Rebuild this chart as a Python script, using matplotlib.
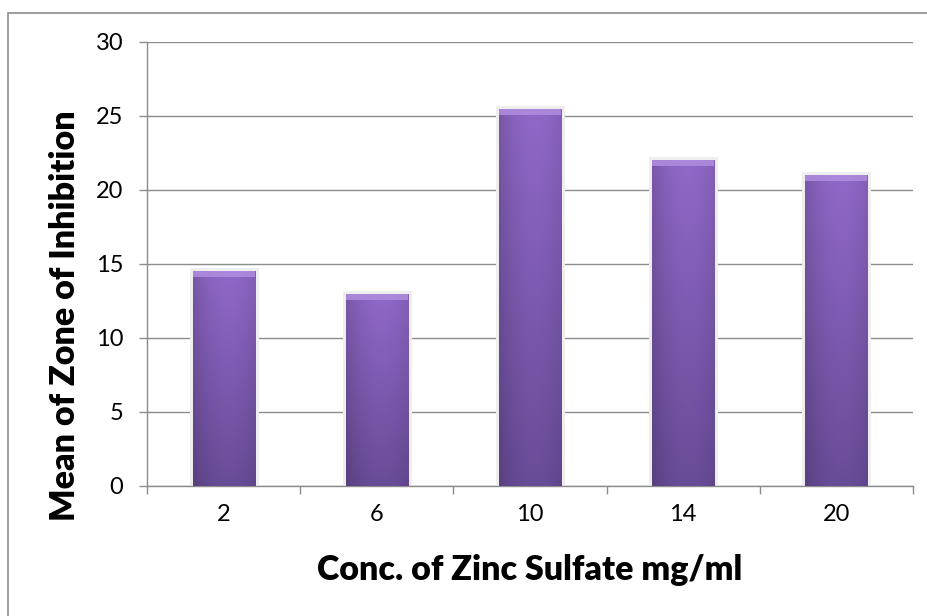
import numpy as np
import matplotlib.pyplot as plt
from matplotlib.patches import Rectangle
from matplotlib.colors import to_rgb

conc = ["2", "6", "10", "14", "20"]
zone_mean = [14.5, 13, 25.5, 22, 21]
y_ticks = [0, 5, 10, 15, 20, 25, 30]

plt.rcParams['font.family'] = ['Lato', 'DejaVu Sans']
GRID = '#8c8c8c'


def bar_gradient():
    # vertical fade (light top -> darker bottom) times a soft horizontal shade
    top = np.array(to_rgb('#9068c8'))
    bottom = np.array(to_rgb('#694c98'))
    t = np.linspace(0, 1, 120)[:, None]
    col = top * (1 - t) + bottom * t
    xs = np.linspace(-1, 1, 60)
    shade = 0.88 + 0.12 * (1 - np.abs(xs - 0.15) ** 2)
    img = col[:, None, :] * shade[None, :, None]
    return np.clip(img, 0, 1)


def main():
    fig = plt.figure(figsize=(9.28, 6.16), dpi=100)
    ax = fig.add_axes([147 / 928, 1 - 486 / 616, 766 / 928, 444 / 616])

    x = np.arange(len(conc))
    bars = ax.bar(x, zone_mean, width=0.405, color='#7d5eb3',
                  edgecolor='#eeeeee', linewidth=5, zorder=2)
    grad = bar_gradient()
    for b in bars:
        x0, w, h = b.get_x(), b.get_width(), b.get_height()
        im = ax.imshow(grad, extent=[x0, x0 + w, 0, h], origin='upper',
                       aspect='auto', zorder=3, interpolation='bilinear')
        im.set_clip_path(b)
        # light bevel on the top edge
        bevel = Rectangle((x0, h - 0.4), w, 0.4, color='#ae8bdd',
                          alpha=0.9, zorder=4, lw=0)
        ax.add_patch(bevel)
        bevel.set_clip_path(b)

    ax.set_xlim(-0.5, len(conc) - 0.5)
    ax.set_ylim(0, 30)
    ax.set_yticks(y_ticks)
    ax.yaxis.grid(True, color=GRID, linewidth=1.0)
    ax.set_axisbelow(True)

    # category boundaries as major ticks, labels on minor ticks
    ax.set_xticks(np.arange(-0.5, len(conc), 1.0))
    ax.set_xticklabels([])
    ax.set_xticks(x, minor=True)
    ax.set_xticklabels(conc, minor=True)
    ax.tick_params(axis='x', which='major', length=6, width=1.0,
                   color=GRID, direction='out')
    ax.tick_params(axis='x', which='minor', length=0, pad=13, labelsize=17)
    ax.tick_params(axis='y', length=6, width=1.0, color=GRID, pad=11,
                   labelsize=17)

    for side in ['top', 'right']:
        ax.spines[side].set_visible(False)
    for side in ['left', 'bottom']:
        ax.spines[side].set_color(GRID)
        ax.spines[side].set_linewidth(1.0)

    ax.set_xlabel('Conc. of Zinc Sulfate mg/ml', fontsize=24.5, fontweight='heavy')
    ax.xaxis.set_label_coords(0.5, (486 - 580) / 444)
    ax.xaxis.label.set_va('baseline')
    ax.set_ylabel('Mean of Zone of Inhibition', fontsize=24.5, fontweight='heavy')
    ax.yaxis.set_label_coords((65 - 147) / 766, (486 - 316) / 444)
    ax.yaxis.label.set_va('center')

    # chart frame (right/bottom edges fall outside the image)
    frame = Rectangle((8 / 928, -0.1), 1.2, 1 - 13 / 616 + 0.1,
                      transform=fig.transFigure, fill=False,
                      edgecolor=GRID, linewidth=1.2, clip_on=False)
    fig.add_artist(frame)

    fig.savefig('out.png', dpi=100)


if __name__ == '__main__':
    main()
